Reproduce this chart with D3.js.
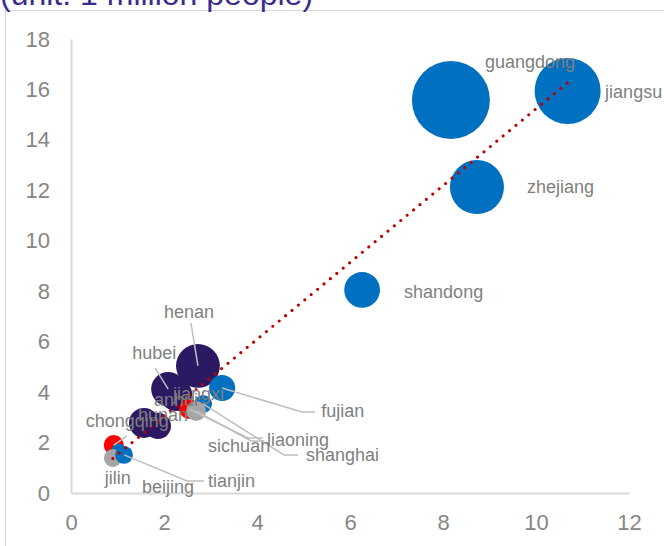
<!DOCTYPE html>
<html><head><meta charset="utf-8">
<script src="https://cdn.jsdelivr.net/npm/d3@7"></script>
<style>html,body{margin:0;padding:0;background:#fff;overflow:hidden;} svg{display:block;font-family:"Liberation Sans",Arial,sans-serif;}</style>
</head><body><svg id="c" width="664" height="546"></svg>
<script>
// ---- data ----
const provinces = ["guangdong","jiangsu","zhejiang","shandong","henan","hubei","anhui","hunan","jiangxi","sichuan","chongqing","shanghai","beijing","fujian","liaoning","jilin","tianjin"];
const xValues = [8.17,10.68,8.73,6.26,2.73,2.09,2.26,1.57,1.87,2.54,0.92,2.84,1.03,3.25,2.69,0.90,1.14];
const yValues = [15.58,15.94,12.13,8.05,5.04,4.12,3.89,2.78,2.66,3.33,1.90,3.53,1.63,4.16,3.25,1.39,1.51];
const bubbleSizes = [15.2,10.9,7.3,3.2,4.8,2.9,2.6,2.25,1.7,1.0,1.0,0.8,0.65,1.7,1.0,0.8,0.8];
const regions = ["east","east","east","east","central","central","central","central","central","west","west","east","east","east","northeast","northeast","east"];
const xTicks = [0,2,4,6,8,10,12];
const yTicks = [0,2,4,6,8,10,12,14,16,18];
const titleText = "(unit: 1 million people)";

// ---- styling / layout ----
const regionColor = {east:"#0070c0", central:"#2b1964", west:"#ff0000", northeast:"#a5a5a5"};
// label placement relative to bubble centre (text start, baseline) and optional leader elbow points
const labelLayout = {
  guangdong:{dx:34,dy:-32},
  jiangsu:{dx:37.5,dy:7},
  zhejiang:{dx:50,dy:6},
  shandong:{dx:42,dy:8},
  henan:{dx:-34,dy:-48,leader:[[-7,-43]]},
  hubei:{dx:-36,dy:-30,leader:[[-13,-21]]},
  anhui:{dx:-22,dy:11},
  hunan:{dx:-6,dy:-2},
  jiangxi:{dx:15,dy:-26},
  sichuan:{dx:19,dy:43,leader:[[74,29],[59,29]]},
  chongqing:{dx:-28,dy:-18,leader:[[13,-9]]},
  shanghai:{dx:103,dy:57,leader:[[95,51],[81,51]]},
  beijing:{dx:23,dy:41},
  fujian:{dx:99,dy:29,leader:[[93,24],[80,24]]},
  liaoning:{dx:71,dy:35,leader:[[68,30],[55,30]]},
  jilin:{dx:-8,dy:26},
  tianjin:{dx:84,dy:32,leader:[[80,26],[63,26]]}
};

const svg = d3.select("#c");
const x = d3.scaleLinear().domain([0,12]).range([71,629]);
const y = d3.scaleLinear().domain([0,18]).range([493,39]);
const r = d3.scaleSqrt().domain([0,15.2]).range([0,39]);

// frame
svg.append("rect").attr("x",5.5).attr("y",10.5).attr("width",700).attr("height",600)
  .attr("fill","none").attr("stroke","#d9d9d9").attr("stroke-width",1);

// title (partly cut off at top)
svg.append("text").attr("x",0).attr("y",5).attr("font-size",32).attr("fill","#3b2d8c").text(titleText);

// axes
const gx = svg.append("g").attr("transform","translate(0,493)")
  .call(d3.axisBottom(x).tickValues(xTicks).tickSize(0).tickPadding(21).tickFormat(d3.format("d")));
const gy = svg.append("g").attr("transform","translate(71,0)")
  .call(d3.axisLeft(y).tickValues(yTicks).tickSize(0).tickPadding(21).tickFormat(d3.format("d")));
[gx,gy].forEach(g=>{
  g.select(".domain").attr("stroke","#d9d9d9").attr("stroke-width",2);
  g.selectAll("text").attr("fill","#868686").attr("font-size",22).attr("font-family","'Liberation Sans',Arial,sans-serif");
});

// bubbles
const data = provinces.map((p,i)=>({name:p,x:xValues[i],y:yValues[i],s:bubbleSizes[i],region:regions[i]}));
svg.append("g").selectAll("circle").data(data).join("circle")
  .attr("cx",d=>x(d.x)).attr("cy",d=>y(d.y)).attr("r",d=>r(d.s))
  .attr("fill",d=>regionColor[d.region]);

// linear trend line (least squares)
const mx = d3.mean(xValues), my = d3.mean(yValues);
const slope = d3.sum(xValues,(v,i)=>(v-mx)*(yValues[i]-my))/d3.sum(xValues,v=>(v-mx)*(v-mx));
const icpt = my - slope*mx;
const [x0,x1] = d3.extent(xValues);
svg.append("line")
  .attr("x1",x(x0)).attr("y1",y(icpt+slope*x0)).attr("x2",x(x1)).attr("y2",y(icpt+slope*x1))
  .attr("stroke","#c00000").attr("stroke-width",3.2).attr("stroke-linecap","round")
  .attr("stroke-dasharray","0 8.3");

// leader lines
const lg = svg.append("g");
data.forEach(d=>{
  const L = labelLayout[d.name];
  if(!L.leader) return;
  const cx = x(d.x), cy = y(d.y);
  const pts = L.leader.map(p=>[cx+p[0],cy+p[1]]).concat([[cx,cy]]);
  lg.append("path").attr("d",d3.line()(pts)).attr("fill","none")
    .attr("stroke","#bfbfbf").attr("stroke-width",1.5);
});

// labels
svg.append("g").selectAll("text").data(data).join("text")
  .attr("x",d=>x(d.x)+labelLayout[d.name].dx)
  .attr("y",d=>y(d.y)+labelLayout[d.name].dy)
  .attr("font-size",18).attr("fill","#7f7f7f")
  .text(d=>d.name);
</script></body></html>
